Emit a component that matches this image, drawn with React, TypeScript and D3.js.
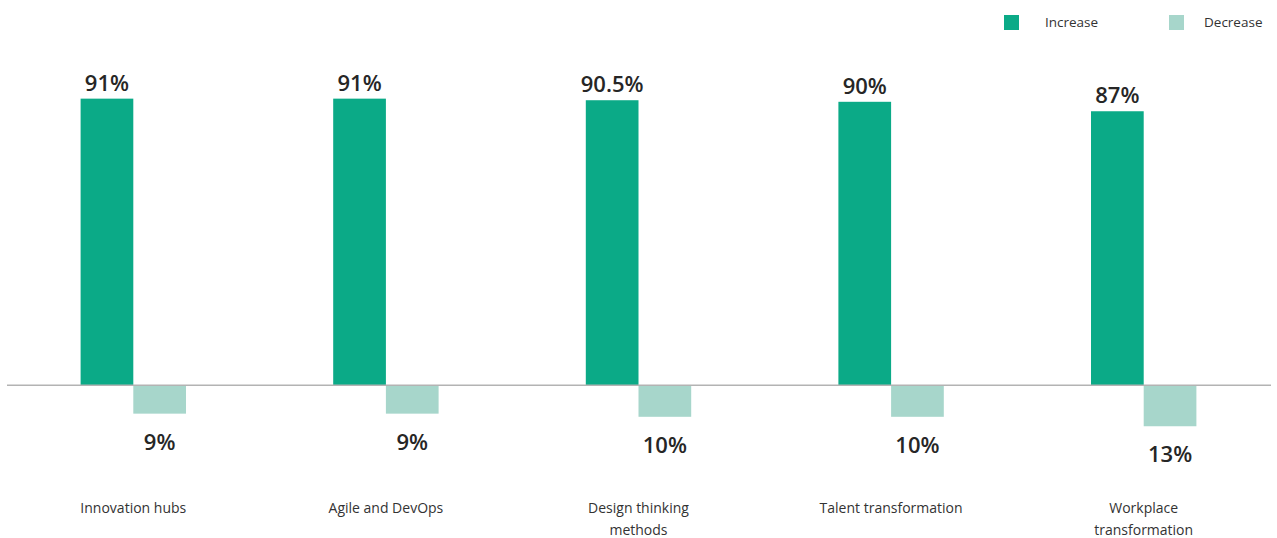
import React from "react";
import * as d3 from "d3";

const categories: string[][] = [
  ["Innovation hubs"],
  ["Agile and DevOps"],
  ["Design thinking", "methods"],
  ["Talent transformation"],
  ["Workplace", "transformation"],
];
const increaseValues = [91, 91, 90.5, 90, 87];
const decreaseValues = [9, 9, 10, 10, 13];
const seriesNames = ["Increase", "Decrease"];
const seriesColors = ["#0BAA87", "#A7D6CB"];

const W = 1277;
const H = 538;
const FONT = "'Open Sans', 'Noto Sans', sans-serif";

export default function App() {
  const x = d3
    .scaleBand<number>()
    .domain(d3.range(categories.length))
    .range([7, 1270])
    .padding(0);
  const step = x.bandwidth();
  const barW = 52.7;
  const inner = d3.scaleBand<string>().domain(seriesNames).range([0, barW * 2]);
  const y = d3.scaleLinear().domain([0, 100]).range([385.3, 70.3]);
  const legendX = [1004, 1169];
  const legendTextX = [1045, 1204];

  return (
    <svg
      width={W}
      height={H}
      style={{ position: "absolute", left: 0, top: 0, background: "#fff" }}
      fontFamily={FONT}
    >
      {seriesNames.map((s, i) => (
        <g key={s}>
          <rect x={legendX[i]} y={15} width={15} height={15} fill={seriesColors[i]} />
          <text x={legendTextX[i]} y={27} fontSize={13.5} fill="#333">
            {s}
          </text>
        </g>
      ))}
      {categories.map((cat, i) => {
        const cx = (x(i) as number) + step / 2;
        const x0 = cx - barW;
        const inc = increaseValues[i];
        const dec = decreaseValues[i];
        const ix = x0 + (inner("Increase") as number);
        const dx = x0 + (inner("Decrease") as number);
        return (
          <g key={i}>
            <rect x={ix} y={y(inc)} width={inner.bandwidth()} height={y(0) - y(inc)} fill={seriesColors[0]} />
            <rect x={dx} y={y(0)} width={inner.bandwidth()} height={y(-dec) - y(0)} fill={seriesColors[1]} />
            <text
              x={ix + inner.bandwidth() / 2}
              y={y(inc) - 8}
              textAnchor="middle"
              fontSize={22}
              fontWeight={600}
              fill="#262626"
            >
              {inc}%
            </text>
            <text
              x={dx + inner.bandwidth() / 2}
              y={y(-dec) + 36}
              textAnchor="middle"
              fontSize={22}
              fontWeight={600}
              fill="#262626"
            >
              {dec}%
            </text>
            {cat.map((line, j) => (
              <text key={j} x={cx} y={513 + j * 22} textAnchor="middle" fontSize={14} fill="#333">
                {line}
              </text>
            ))}
          </g>
        );
      })}
      <line x1={7} x2={1271} y1={y(0)} y2={y(0)} stroke="#b3b3b3" strokeWidth={1.5} />
    </svg>
  );
}
